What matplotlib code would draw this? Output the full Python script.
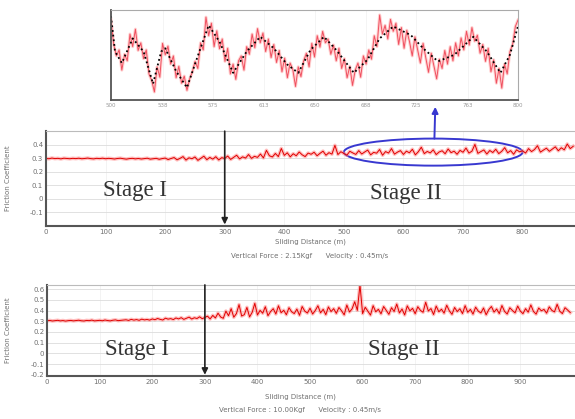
import numpy as np
import matplotlib
matplotlib.use("Agg")
from matplotlib import pyplot as plt
from matplotlib.patches import Ellipse

# friction coefficient, one value every 5 m
mid_mu = [0.298, 0.296, 0.301, 0.297, 0.299, 0.295, 0.300, 0.298, 0.296, 0.299,
          0.297, 0.300, 0.296, 0.298, 0.301, 0.297, 0.295, 0.299, 0.297, 0.300,
          0.296, 0.299, 0.297, 0.294, 0.298, 0.300, 0.296, 0.293, 0.297, 0.299,
          0.295, 0.298, 0.294, 0.297, 0.300, 0.293, 0.296, 0.299, 0.292, 0.297,
          0.301, 0.290, 0.298, 0.305, 0.288, 0.299, 0.312, 0.286, 0.303, 0.296,
          0.309, 0.284, 0.300, 0.315, 0.289, 0.306, 0.293, 0.311, 0.287, 0.304,
          0.298, 0.316, 0.291, 0.307, 0.322, 0.295, 0.310, 0.301, 0.327, 0.299,
          0.314, 0.306, 0.331, 0.302, 0.358, 0.318, 0.309, 0.335, 0.312, 0.372,
          0.321, 0.340, 0.310, 0.333, 0.318, 0.346, 0.325, 0.312, 0.338, 0.329,
          0.344, 0.318, 0.336, 0.352, 0.322, 0.341, 0.330, 0.395, 0.327, 0.348,
          0.335, 0.322, 0.351, 0.339, 0.328, 0.356, 0.331, 0.346, 0.360, 0.325,
          0.343, 0.337, 0.364, 0.322, 0.349, 0.338, 0.371, 0.330, 0.345, 0.356,
          0.328, 0.352, 0.340, 0.366, 0.325, 0.348, 0.381, 0.334, 0.350, 0.339,
          0.362, 0.327, 0.346, 0.355, 0.333, 0.368, 0.341, 0.352, 0.329, 0.358,
          0.344, 0.375, 0.338, 0.352, 0.402, 0.336, 0.349, 0.361, 0.331, 0.357,
          0.342, 0.366, 0.334, 0.351, 0.378, 0.340, 0.356, 0.329, 0.362, 0.347,
          0.355, 0.338, 0.371, 0.349, 0.364, 0.392, 0.345, 0.360, 0.374, 0.351,
          0.368, 0.384, 0.355, 0.377, 0.362, 0.405, 0.371, 0.388]

bot_mu = [0.305, 0.308, 0.303, 0.306, 0.309, 0.304, 0.307, 0.302, 0.306, 0.308,
          0.304, 0.307, 0.310, 0.305, 0.303, 0.308, 0.306, 0.311, 0.304, 0.307,
          0.309, 0.305, 0.312, 0.307, 0.304, 0.310, 0.313, 0.306, 0.309, 0.311,
          0.314, 0.308, 0.318, 0.311, 0.316, 0.309, 0.320, 0.313, 0.317, 0.311,
          0.322, 0.315, 0.326, 0.318, 0.312, 0.329, 0.320, 0.325, 0.316, 0.331,
          0.322, 0.334, 0.318, 0.328, 0.339, 0.321, 0.333, 0.326, 0.342, 0.324,
          0.336, 0.348, 0.322, 0.355, 0.331, 0.376, 0.340, 0.328, 0.395, 0.352,
          0.418, 0.338, 0.372, 0.456, 0.349, 0.362, 0.430, 0.341, 0.384, 0.468,
          0.359, 0.402, 0.375, 0.436, 0.352, 0.391, 0.418, 0.368, 0.445, 0.380,
          0.403, 0.361, 0.427, 0.389, 0.372, 0.414, 0.356, 0.438, 0.395, 0.377,
          0.422, 0.368, 0.401, 0.445, 0.379, 0.412, 0.362, 0.434, 0.391, 0.418,
          0.374, 0.429, 0.398, 0.360, 0.452, 0.387, 0.416, 0.483, 0.402, 0.640,
          0.372, 0.431, 0.395, 0.358, 0.446, 0.389, 0.412, 0.370, 0.438, 0.401,
          0.365, 0.427, 0.392, 0.461, 0.378, 0.415, 0.359, 0.444, 0.398, 0.421,
          0.371, 0.436, 0.402, 0.384, 0.478, 0.396, 0.419, 0.363, 0.442, 0.389,
          0.413, 0.376, 0.450, 0.398, 0.365, 0.429, 0.391, 0.417, 0.372, 0.446,
          0.384, 0.411, 0.367, 0.432, 0.395, 0.378, 0.424, 0.361, 0.409, 0.438,
          0.386, 0.415, 0.372, 0.447, 0.393, 0.368, 0.426, 0.401, 0.379, 0.442,
          0.396, 0.371, 0.418, 0.385, 0.453, 0.392, 0.367, 0.424, 0.398, 0.411,
          0.376, 0.435, 0.402, 0.388, 0.459, 0.394, 0.372, 0.427, 0.405, 0.381]

# zoomed window 500-800 m, one value every 2 m
zoom_mu = [0.448, 0.402, 0.381, 0.392, 0.355, 0.384, 0.372, 0.421, 0.398, 0.430,
           0.391, 0.405, 0.376, 0.392, 0.348, 0.336, 0.315, 0.361, 0.342, 0.404,
           0.383, 0.399, 0.366, 0.381, 0.341, 0.362, 0.331, 0.344, 0.318, 0.339,
           0.352, 0.371, 0.358, 0.405, 0.392, 0.452, 0.418, 0.441, 0.398, 0.427,
           0.394, 0.412, 0.371, 0.395, 0.348, 0.366, 0.338, 0.372, 0.381, 0.355,
           0.398, 0.384, 0.421, 0.396, 0.431, 0.405, 0.423, 0.389, 0.412, 0.378,
           0.402, 0.369, 0.391, 0.352, 0.377, 0.341, 0.368, 0.356, 0.325, 0.361,
           0.343, 0.372, 0.386, 0.361, 0.404, 0.379, 0.418, 0.397, 0.426, 0.405,
           0.412, 0.384, 0.401, 0.372, 0.395, 0.358, 0.376, 0.341, 0.362, 0.327,
           0.355, 0.368, 0.342, 0.381, 0.366, 0.392, 0.375, 0.418, 0.398, 0.456,
           0.421, 0.437, 0.412, 0.448, 0.426, 0.441, 0.402, 0.433, 0.395, 0.428,
           0.407, 0.381, 0.416, 0.392, 0.368, 0.404, 0.378, 0.351, 0.386, 0.362,
           0.339, 0.375, 0.358, 0.391, 0.366, 0.398, 0.372, 0.405, 0.381, 0.414,
           0.392, 0.426, 0.401, 0.433, 0.408, 0.419, 0.386, 0.402, 0.371, 0.395,
           0.352, 0.374, 0.331, 0.358, 0.322, 0.366, 0.348, 0.389, 0.402, 0.435,
           0.447]

# smoothed (dotted) curve in the zoom window
fit_x = [500, 503, 508, 516, 524, 531, 537, 540, 548, 556, 563, 572, 580, 590,
         600, 610, 620, 630, 638, 647, 657, 666, 679, 689, 698, 708, 721, 730,
         741, 753, 767, 777, 787, 794, 800]
fit_mu = [0.454, 0.389, 0.368, 0.413, 0.389, 0.330, 0.389, 0.395, 0.353, 0.323,
          0.374, 0.437, 0.407, 0.350, 0.389, 0.416, 0.395, 0.365, 0.350, 0.392,
          0.416, 0.392, 0.350, 0.374, 0.413, 0.435, 0.419, 0.395, 0.371, 0.383,
          0.416, 0.389, 0.350, 0.383, 0.436]

zoom_ticks = [500, 538, 575, 613, 650, 688, 725, 763, 800]

mid_x = np.arange(len(mid_mu)) * 5
bot_x = np.arange(len(bot_mu)) * 5
zoom_x = np.linspace(500, 800, len(zoom_mu))

grey = '#707070'
serif = 'Liberation Serif'

fig = plt.figure(figsize=(5.75, 4.19), dpi=100)


def style_axes(ax, yticks, xticks):
    ax.set_yticks(yticks)
    ax.set_yticklabels(['%g' % t for t in yticks])
    ax.set_xticks(xticks)
    ax.tick_params(labelsize=5, colors=grey, length=0, pad=2)
    ax.grid(True, axis='y', color='#dcdcdc', lw=0.6)
    ax.grid(True, axis='x', color='#eeeeee', lw=0.5)
    ax.set_axisbelow(True)
    for s in ['left', 'bottom']:
        ax.spines[s].set_color('#555555')
        ax.spines[s].set_linewidth(1.5)
    ax.spines['top'].set_color('#bbbbbb')
    ax.spines['right'].set_visible(False)


def trace(ax, x, y):
    ax.plot(x, y, color='#ff8a8a', lw=2.6, alpha=0.55, solid_joinstyle='round')
    ax.plot(x, y, color='#e00000', lw=0.7)


# ---- zoomed window ----
ax_in = fig.add_axes([0.193, 0.761, 0.708, 0.215])
ax_in.plot(zoom_x, zoom_mu, color='#ffb0b0', lw=2.2, alpha=0.6)
ax_in.plot(zoom_x, zoom_mu, color='#f05060', lw=0.7)
ax_in.plot(fit_x, fit_mu, color='black', lw=1.3, linestyle=(0, (1, 1.6)))
ax_in.set_xlim(500, 800)
ax_in.set_ylim(0.30, 0.465)
ax_in.set_yticks([])
ax_in.set_xticks(zoom_ticks)
ax_in.set_xticklabels([str(t) for t in zoom_ticks])
ax_in.tick_params(labelsize=4, colors='#999999', length=0, pad=2)
ax_in.grid(True, axis='x', color='#f0f0f0', lw=0.5)
for s in ['left', 'bottom']:
    ax_in.spines[s].set_color('#555555')
    ax_in.spines[s].set_linewidth(1.3)
for s in ['top', 'right']:
    ax_in.spines[s].set_color('#aaaaaa')
    ax_in.spines[s].set_linewidth(0.8)

# ---- middle chart ----
ax_mid = fig.add_axes([0.080, 0.461, 0.920, 0.226])
trace(ax_mid, mid_x, mid_mu)
ax_mid.set_xlim(0, 888)
ax_mid.set_ylim(-0.2, 0.5)
style_axes(ax_mid, [-0.1, 0, 0.1, 0.2, 0.3, 0.4], list(range(0, 801, 100)))
ax_mid.annotate('', xy=(300, -0.19), xytext=(300, 0.5),
                arrowprops=dict(arrowstyle='-|>', color='#222222', lw=1.2,
                                mutation_scale=9, shrinkA=0, shrinkB=0))
ax_mid.add_patch(Ellipse((650, 0.345), 300, 0.2, fill=False,
                         edgecolor='#3838d0', lw=1.4))
ax_mid.annotate('', xy=(0.757, 0.745), xycoords='figure fraction',
                xytext=(652, 0.445), textcoords='data',
                arrowprops=dict(arrowstyle='-|>', color='#3838d0', lw=1.4,
                                mutation_scale=9, shrinkA=0, shrinkB=0))
ax_mid.text(150, 0.06, 'Stage I', fontsize=16.5, family=serif, color='#333333',
            ha='center', va='center')
ax_mid.text(604, 0.04, 'Stage II', fontsize=16.5, family=serif, color='#333333',
            ha='center', va='center')

fig.text(310 / 575, 1 - 242 / 419, 'Sliding Distance (m)', fontsize=5,
         color=grey, ha='center', va='center')
fig.text(310 / 575, 1 - 256 / 419,
         'Vertical Force : 2.15Kgf      Velocity : 0.45m/s', fontsize=5,
         color=grey, ha='center', va='center')
fig.text(0.014, 0.575, 'Friction Coefficient', fontsize=5, color=grey,
         rotation=90, ha='center', va='center')

# ---- bottom chart ----
ax_bot = fig.add_axes([0.082, 0.103, 0.918, 0.217])
trace(ax_bot, bot_x, bot_mu)
ax_bot.set_xlim(0, 1004)
ax_bot.set_ylim(-0.21, 0.64)
style_axes(ax_bot, [-0.2, -0.1, 0, 0.1, 0.2, 0.3, 0.4, 0.5, 0.6],
           list(range(0, 901, 100)))
ax_bot.annotate('', xy=(300, -0.2), xytext=(300, 0.64),
                arrowprops=dict(arrowstyle='-|>', color='#222222', lw=1.2,
                                mutation_scale=9, shrinkA=0, shrinkB=0))
ax_bot.text(170, 0.04, 'Stage I', fontsize=16.5, family=serif, color='#333333',
            ha='center', va='center')
ax_bot.text(679, 0.04, 'Stage II', fontsize=16.5, family=serif, color='#333333',
            ha='center', va='center')

fig.text(300 / 575, 1 - 397 / 419, 'Sliding Distance (m)', fontsize=5,
         color=grey, ha='center', va='center')
fig.text(300 / 575, 1 - 410 / 419,
         'Vertical Force : 10.00Kgf      Velocity : 0.45m/s', fontsize=5,
         color=grey, ha='center', va='center')
fig.text(0.014, 0.212, 'Friction Coefficient', fontsize=5, color=grey,
         rotation=90, ha='center', va='center')

fig.savefig('out.png', dpi=100)
